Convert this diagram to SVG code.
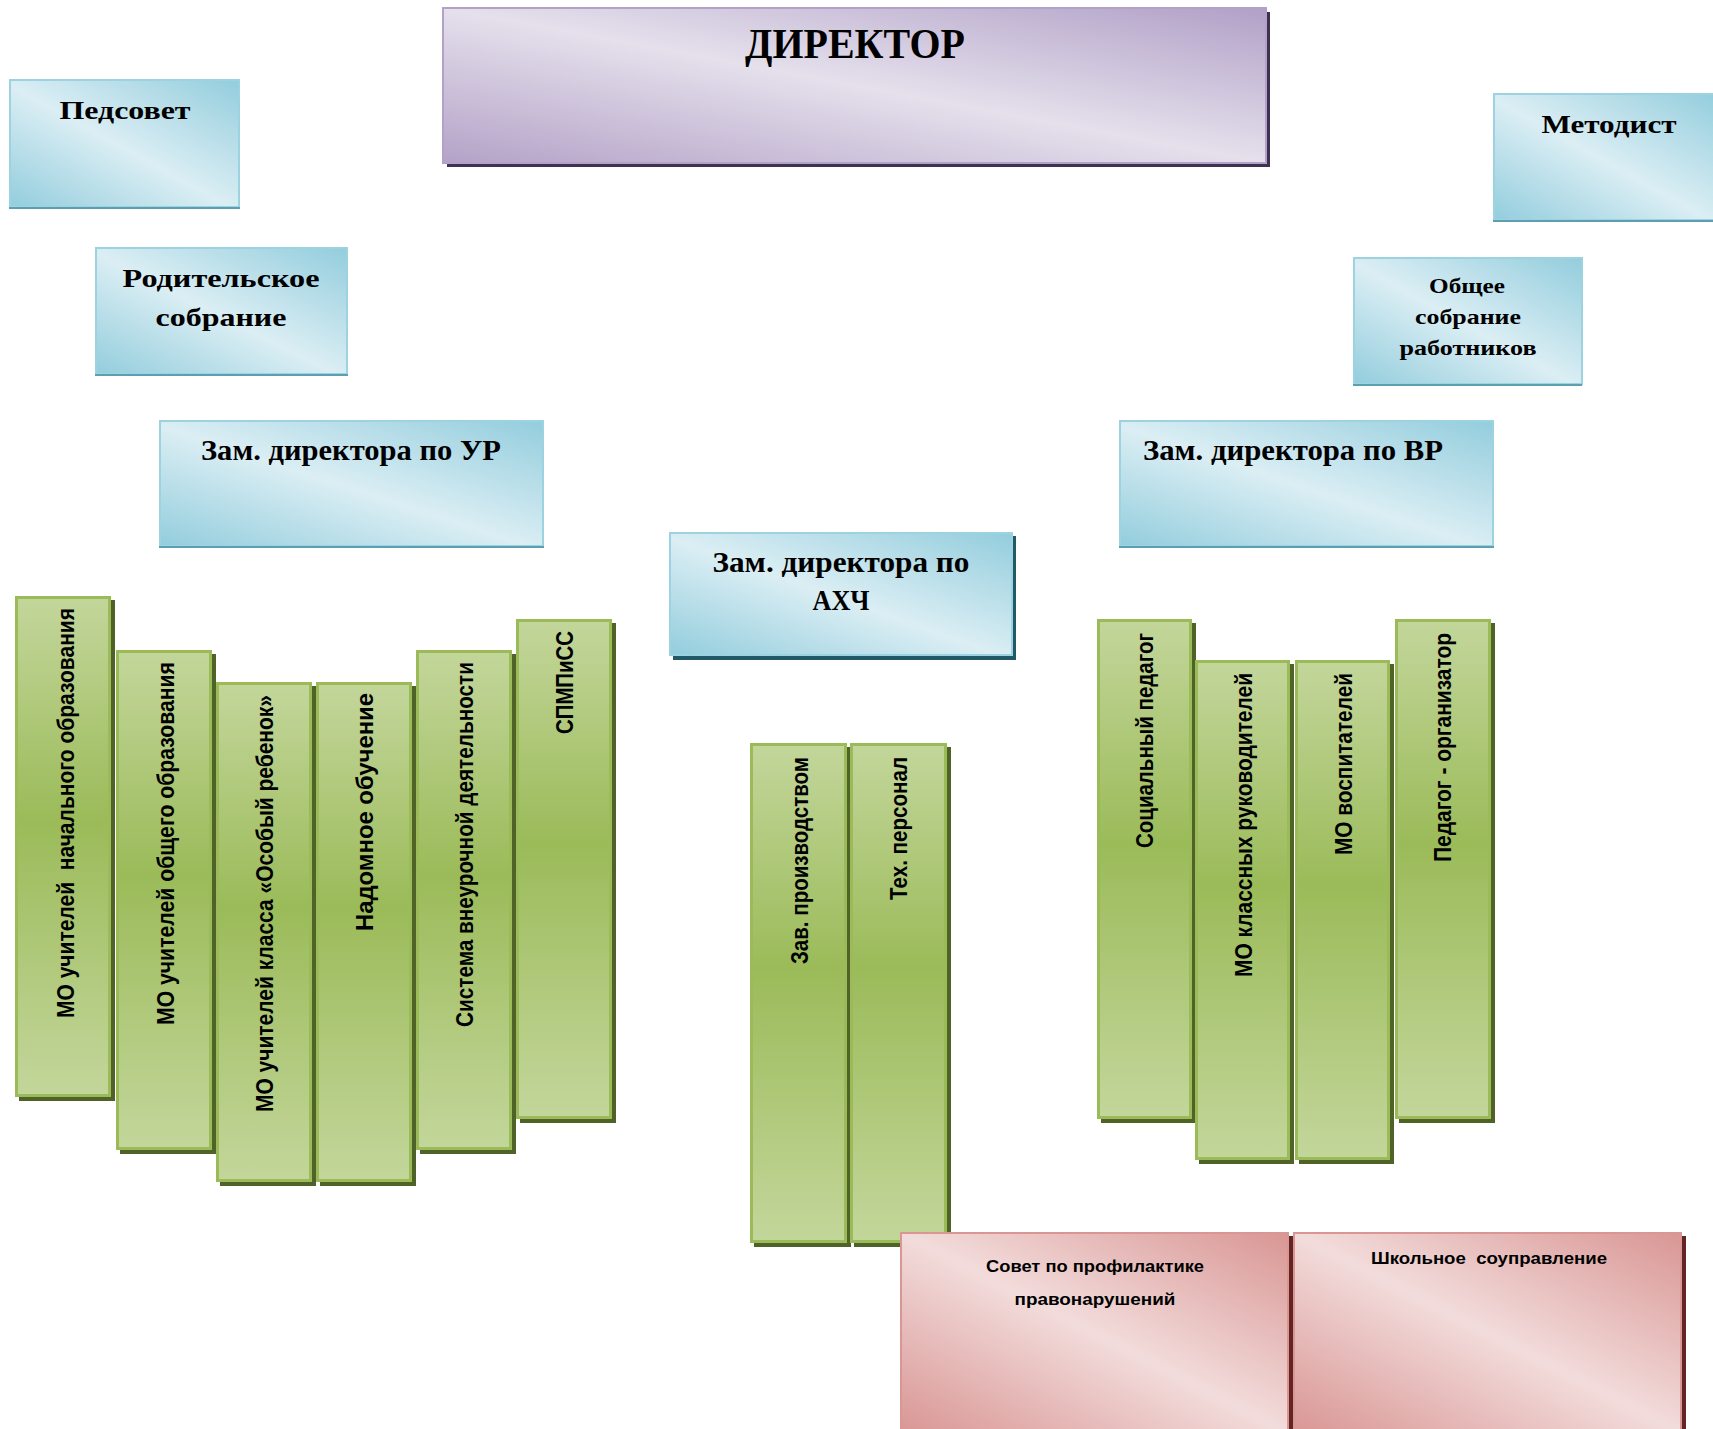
<svg xmlns="http://www.w3.org/2000/svg" width="1713" height="1429" viewBox="0 0 1713 1429">
<style>
.ser{font-family:"Liberation Serif","DejaVu Serif",serif;font-weight:bold;fill:#000}
.san{font-family:"Liberation Sans","DejaVu Sans",sans-serif;font-weight:bold;fill:#000}
.vt{font-family:"Liberation Sans","DejaVu Sans",sans-serif;font-weight:bold;font-size:23px;fill:#000}
.pre{white-space:pre}
.blue{fill:url(#gBlue);stroke:#9dd2e0;stroke-width:2}
.blueEdge{stroke:#5c9fb1;stroke-width:2}
.green{fill:url(#gGreen);stroke:#9bbb59;stroke-width:3}
.gsh{fill:#4f6228}
.red{fill:url(#gRed);stroke:#d99694;stroke-width:2}
</style>
<defs>
<linearGradient id="gBlue" x1="0" y1="1" x2="1" y2="0">
<stop offset="0" stop-color="#93cddd"/>
<stop offset="0.48" stop-color="#dbeef4"/>
<stop offset="1" stop-color="#93cddd"/>
</linearGradient>
<linearGradient id="gPurple" x1="0" y1="1" x2="1" y2="0">
<stop offset="0" stop-color="#b3a2c7"/>
<stop offset="0.5" stop-color="#e5e0ec"/>
<stop offset="1" stop-color="#b1a0c7"/>
</linearGradient>
<linearGradient id="gGreen" x1="0" y1="0" x2="0" y2="1">
<stop offset="0" stop-color="#c3d69b"/>
<stop offset="0.45" stop-color="#9bbb59"/>
<stop offset="1" stop-color="#c3d69b"/>
</linearGradient>
<linearGradient id="gRed" x1="0" y1="1" x2="1" y2="0">
<stop offset="0" stop-color="#d99694"/>
<stop offset="0.5" stop-color="#f2dcdb"/>
<stop offset="1" stop-color="#d99694"/>
</linearGradient>
</defs>
<rect width="1713" height="1429" fill="#fff"/>

<g id="director">
<rect x="447" y="12" width="823" height="155" fill="#3f3151"/>
<rect x="443" y="8" width="823" height="155" fill="url(#gPurple)" stroke="#b3a2c7" stroke-width="2"/>
<text class="ser" x="855" y="58" font-size="42" text-anchor="middle" textLength="220" lengthAdjust="spacingAndGlyphs">ДИРЕКТОР</text>
</g>

<g id="pedsovet">
<rect class="blue" x="10" y="80" width="229" height="127"/>
<line class="blueEdge" x1="9" y1="208" x2="240" y2="208"/>
<text class="ser" x="125" y="119" font-size="26" text-anchor="middle" textLength="131" lengthAdjust="spacingAndGlyphs">Педсовет</text>
</g>

<g id="roditelskoe">
<rect class="blue" x="96" y="248" width="251" height="126"/>
<line class="blueEdge" x1="95" y1="375" x2="348" y2="375"/>
<text class="ser" x="221" y="287" font-size="26" text-anchor="middle" textLength="197" lengthAdjust="spacingAndGlyphs">Родительское</text>
<text class="ser" x="221" y="326" font-size="26" text-anchor="middle" textLength="131" lengthAdjust="spacingAndGlyphs">собрание</text>
</g>

<g id="metodist">
<rect class="blue" x="1494" y="94" width="225" height="126"/>
<line class="blueEdge" x1="1493" y1="221" x2="1713" y2="221"/>
<text class="ser" x="1609" y="133" font-size="26" text-anchor="middle" textLength="135" lengthAdjust="spacingAndGlyphs">Методист</text>
</g>

<g id="obshee">
<rect class="blue" x="1354" y="258" width="228" height="126"/>
<line class="blueEdge" x1="1353" y1="385" x2="1582" y2="385"/>
<text class="ser" x="1467" y="293" font-size="21" text-anchor="middle" textLength="76" lengthAdjust="spacingAndGlyphs">Общее</text>
<text class="ser" x="1468" y="324" font-size="21" text-anchor="middle" textLength="106" lengthAdjust="spacingAndGlyphs">собрание</text>
<text class="ser" x="1468" y="355" font-size="21" text-anchor="middle" textLength="137" lengthAdjust="spacingAndGlyphs">работников</text>
</g>

<g id="zam-ur">
<rect class="blue" x="160" y="421" width="383" height="125"/>
<line class="blueEdge" x1="159" y1="547" x2="544" y2="547"/>
<text class="ser" x="351" y="460" font-size="29" text-anchor="middle" textLength="300" lengthAdjust="spacingAndGlyphs">Зам. директора по УР</text>
</g>

<g id="zam-vr">
<rect class="blue" x="1120" y="421" width="373" height="125"/>
<line class="blueEdge" x1="1119" y1="547" x2="1494" y2="547"/>
<text class="ser" x="1143" y="460" font-size="29" textLength="300" lengthAdjust="spacingAndGlyphs">Зам. директора по ВР</text>
</g>

<g id="zam-ahch">
<rect x="673" y="536" width="343" height="124" fill="#215968"/>
<rect class="blue" x="670" y="533" width="342" height="122"/>
<text class="ser" x="841" y="572" font-size="29" text-anchor="middle" textLength="257" lengthAdjust="spacingAndGlyphs">Зам. директора по</text>
<text class="ser" x="841" y="610" font-size="29" text-anchor="middle" textLength="57" lengthAdjust="spacingAndGlyphs">АХЧ</text>
</g>

<g id="mo-nachalnogo">
<rect class="gsh" x="19" y="600" width="96" height="501"/>
<rect class="green" x="16.5" y="597.5" width="93" height="498"/>
<text class="vt pre" xml:space="preserve" transform="translate(74,1018) rotate(-90)" textLength="410" lengthAdjust="spacingAndGlyphs">МО учителей  начального образования</text>
</g>

<g id="mo-obshego">
<rect class="gsh" x="120" y="654" width="96" height="500"/>
<rect class="green" x="117.5" y="651.5" width="93" height="497"/>
<text class="vt" transform="translate(174,1025) rotate(-90)" textLength="363" lengthAdjust="spacingAndGlyphs">МО учителей общего образования</text>
</g>

<g id="mo-osobyi">
<rect class="gsh" x="220" y="686" width="96" height="500"/>
<rect class="green" x="217.5" y="683.5" width="93" height="497"/>
<text class="vt" transform="translate(273,1112) rotate(-90)" textLength="417" lengthAdjust="spacingAndGlyphs">МО учителей класса «Особый ребенок»</text>
</g>

<g id="nadomnoe">
<rect class="gsh" x="320" y="686" width="96" height="500"/>
<rect class="green" x="317.5" y="683.5" width="93" height="497"/>
<text class="vt" transform="translate(373,931) rotate(-90)" textLength="238" lengthAdjust="spacingAndGlyphs">Надомное обучение</text>
</g>

<g id="vneurochnaya">
<rect class="gsh" x="420" y="654" width="96" height="500"/>
<rect class="green" x="417.5" y="651.5" width="93" height="497"/>
<text class="vt" transform="translate(473,1027) rotate(-90)" textLength="365" lengthAdjust="spacingAndGlyphs">Система внеурочной деятельности</text>
</g>

<g id="spmpiss">
<rect class="gsh" x="520" y="623" width="96" height="500"/>
<rect class="green" x="517.5" y="620.5" width="93" height="497"/>
<text class="vt" transform="translate(573,734) rotate(-90)" textLength="103" lengthAdjust="spacingAndGlyphs">СПМПиСС</text>
</g>

<g id="zav-proizvodstvom">
<rect class="gsh" x="754" y="747" width="97" height="500"/>
<rect class="green" x="751.5" y="744.5" width="94" height="497"/>
<text class="vt" transform="translate(808,964) rotate(-90)" textLength="207" lengthAdjust="spacingAndGlyphs">Зав. производством</text>
</g>

<g id="teh-personal">
<rect class="gsh" x="854" y="747" width="97" height="500"/>
<rect class="green" x="851.5" y="744.5" width="94" height="497"/>
<text class="vt" transform="translate(907,900) rotate(-90)" textLength="143" lengthAdjust="spacingAndGlyphs">Тех. персонал</text>
</g>

<g id="socialnyi-pedagog">
<rect class="gsh" x="1101" y="623" width="95" height="500"/>
<rect class="green" x="1098.5" y="620.5" width="92" height="497"/>
<text class="vt" transform="translate(1153,848) rotate(-90)" textLength="215" lengthAdjust="spacingAndGlyphs">Социальный педагог</text>
</g>

<g id="mo-klassnyh">
<rect class="gsh" x="1199" y="664" width="95" height="500"/>
<rect class="green" x="1196.5" y="661.5" width="92" height="497"/>
<text class="vt" transform="translate(1252,977) rotate(-90)" textLength="304" lengthAdjust="spacingAndGlyphs">МО классных руководителей</text>
</g>

<g id="mo-vospitatelei">
<rect class="gsh" x="1299" y="664" width="95" height="500"/>
<rect class="green" x="1296.5" y="661.5" width="92" height="497"/>
<text class="vt" transform="translate(1352,855) rotate(-90)" textLength="182" lengthAdjust="spacingAndGlyphs">МО воспитателей</text>
</g>

<g id="pedagog-organizator">
<rect class="gsh" x="1399" y="623" width="96" height="500"/>
<rect class="green" x="1396.5" y="620.5" width="93" height="497"/>
<text class="vt" transform="translate(1451,862) rotate(-90)" textLength="229" lengthAdjust="spacingAndGlyphs">Педагог - организатор</text>
</g>

<g id="sovet-profilaktiki">
<rect x="904" y="1236" width="389" height="200" fill="#632523"/>
<rect class="red" x="901" y="1233" width="387" height="200"/>
<text class="san" x="1095" y="1272" font-size="17" text-anchor="middle" textLength="218" lengthAdjust="spacingAndGlyphs">Совет по профилактике</text>
<text class="san" x="1095" y="1305" font-size="17" text-anchor="middle" textLength="161" lengthAdjust="spacingAndGlyphs">правонарушений</text>
</g>

<g id="shkolnoe-souprav">
<rect x="1297" y="1236" width="389" height="200" fill="#632523"/>
<rect class="red" x="1294" y="1233" width="387" height="200"/>
<text class="san pre" xml:space="preserve" x="1489" y="1264" font-size="17" text-anchor="middle" textLength="236" lengthAdjust="spacingAndGlyphs">Школьное  соуправление</text>
</g>

<g id="connectors"></g>
</svg>
